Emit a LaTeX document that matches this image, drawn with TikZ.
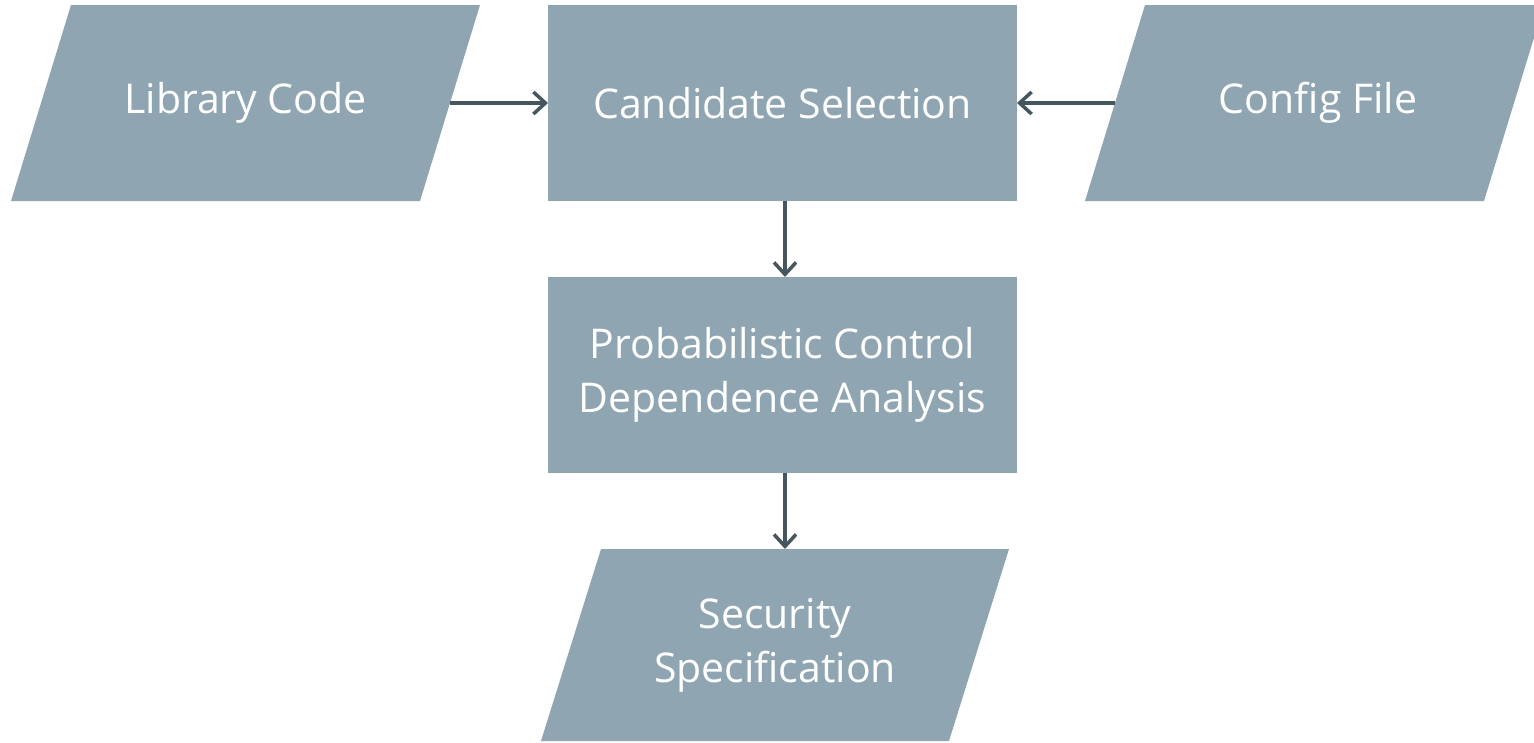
\documentclass[tikz,border=0pt]{standalone}
\usepackage{fontspec}
\setmainfont{Open Sans}
\usetikzlibrary{arrows.meta}
\definecolor{boxfill}{HTML}{8FA6B2}
\definecolor{linkcol}{HTML}{46565E}
\newcommand\slantfill[2]{% node name, horizontal shift of the slant
  \fill[boxfill] ([xshift=#2]#1.north west) -- ([xshift=#2]#1.north east)
    -- ([xshift=-#2]#1.south east) -- ([xshift=-#2]#1.south west) -- cycle;}
\begin{document}
\begin{tikzpicture}[x=1pt,y=1pt,
  txt/.style={font=\fontsize{41}{54}\selectfont, text=white, align=center, inner sep=0pt, outer sep=0pt},
  procbox/.style={txt, fill=boxfill, minimum width=469pt, minimum height=196pt},
  iobox/.style={txt, minimum height=196pt},
  link/.style={draw=linkcol, line width=3.5pt, -{Straight Barb[length=12pt,width=22pt]}}]
\useasboundingbox (0,0) rectangle (1534,-742);
% input and output shapes (text holders; slanted fills drawn beneath)
\node[iobox, minimum width=409pt] (lib) at (245.5,-103) {};
\node[iobox, minimum width=399pt] (cfg) at (1314.5,-103) {};
\node[iobox, minimum width=408pt, minimum height=192pt] (spec) at (775,-645) {};
\slantfill{lib}{30pt}
\slantfill{cfg}{30pt}
\slantfill{spec}{30pt}
\node[txt] at (lib) {Library Code};
\node[txt] at (1318,-103) {Config File};
\node[txt] at (spec) {Security\\Specification};
% processing steps
\node[procbox] (cand) at (782.5,-103) {Candidate Selection};
\node[procbox] (pcda) at (782.5,-375) {Probabilistic Control\\Dependence Analysis};
% connectors
\draw[link] (lib.east) -- (cand.west);
\draw[link] (cfg.west) -- (cand.east);
\draw[link] ([xshift=2.5pt]cand.south) -- ([xshift=2.5pt]pcda.north);
\draw[link] ([xshift=2.5pt]pcda.south) -- ([xshift=2.5pt]pcda.south |- spec.north);
\end{tikzpicture}
\end{document}
